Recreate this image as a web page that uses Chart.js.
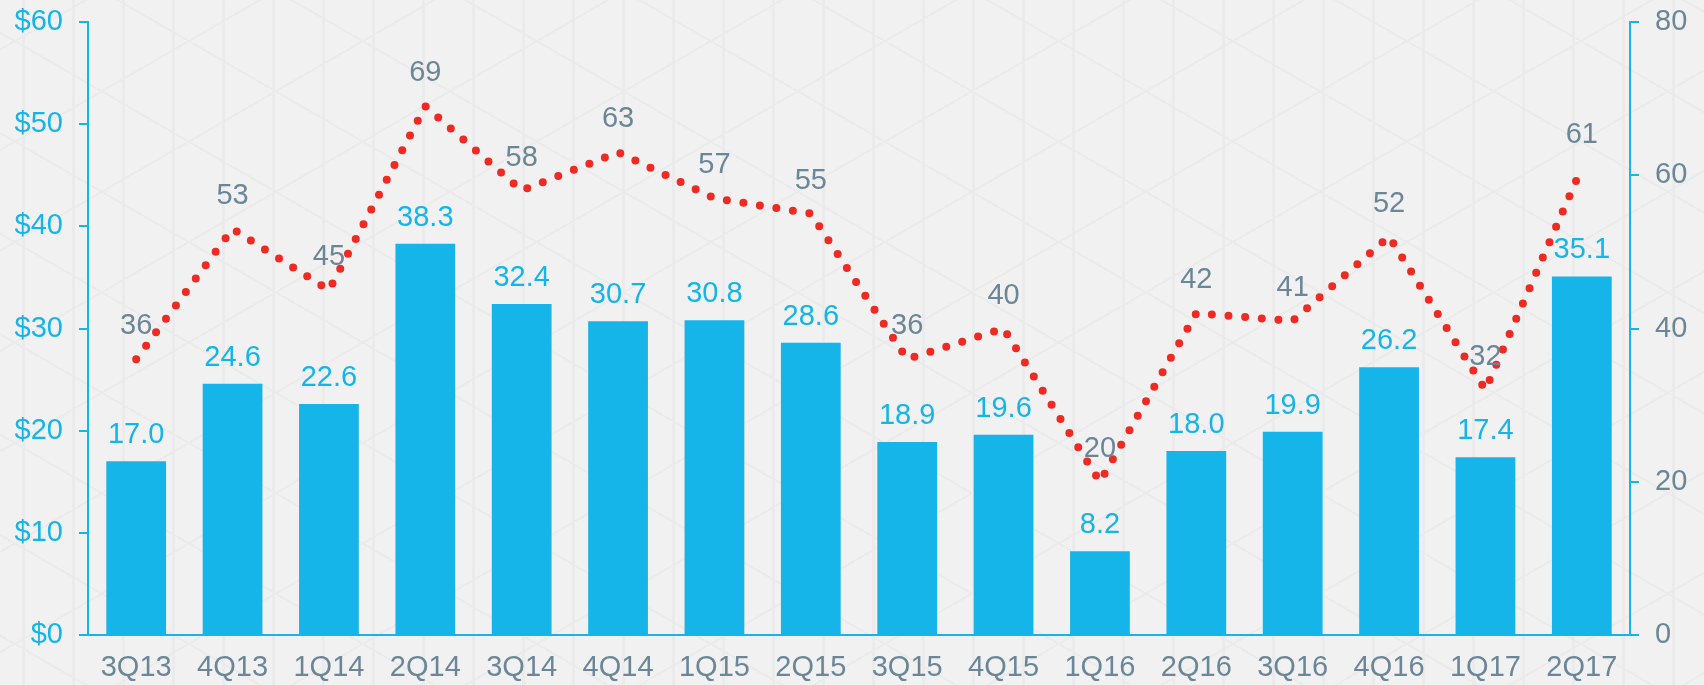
<!DOCTYPE html>
<html lang="en">
<head>
  <meta charset="UTF-8">
  <title>Quarterly chart</title>
  <script src="https://cdn.jsdelivr.net/npm/chart.js"></script>
  <style>
    html, body { margin: 0; padding: 0; }
    body {
      width: 1704px; height: 685px; overflow: hidden;
      background-color: #f1f1f1;
      background-image:
        repeating-linear-gradient(90deg, transparent 0 22px, #ebebeb 22px 25px, transparent 25px 50px),
        repeating-linear-gradient(30deg, transparent 0 42px, #ebebeb 42px 44px, transparent 44px 87px),
        repeating-linear-gradient(150deg, transparent 0 42px, #ebebeb 42px 44px, transparent 44px 87px);
    }
    canvas { display: block; }
  </style>
</head>
<body>
  <canvas id="chart" width="1704" height="685"></canvas>

  <script>
    const quarters = ['3Q13','4Q13','1Q14','2Q14','3Q14','4Q14','1Q15','2Q15','3Q15','4Q15','1Q16','2Q16','3Q16','4Q16','1Q17','2Q17'];
    const barValues = [17.0, 24.6, 22.6, 38.3, 32.4, 30.7, 30.8, 28.6, 18.9, 19.6, 8.2, 18.0, 19.9, 26.2, 17.4, 35.1];
    const lineValues = [36, 53, 45, 69, 58, 63, 57, 55, 36, 40, 20, 42, 41, 52, 32, 61];

    const blue = '#15b4e9';
    const grey = '#6b8697';
    const red = '#ee2a22';
    const font = { family: '"Liberation Sans", Arial, sans-serif', size: 29 };

    // draws the value labels above bars and line points
    const valueLabels = {
      id: 'valueLabels',
      afterDatasetsDraw(chart) {
        const ctx = chart.ctx;
        ctx.save();
        ctx.font = `${font.size}px ${font.family}`;
        ctx.textAlign = 'center';
        ctx.textBaseline = 'alphabetic';
        chart.getDatasetMeta(0).data.forEach((bar, i) => {
          ctx.fillStyle = blue;
          ctx.fillText(barValues[i].toFixed(1), bar.x, bar.y - 18);
        });
        chart.getDatasetMeta(1).data.forEach((pt, i) => {
          ctx.fillStyle = grey;
          ctx.fillText(String(lineValues[i]), pt.x, pt.y - 25);
        });
        ctx.restore();
      }
    };

    // fixed axis sizes so the plot area sits where the original does
    const fitY = w => scale => { scale.width = w; scale.paddingTop = 0; scale.paddingBottom = 0; };

    new Chart(document.getElementById('chart').getContext('2d'), {
      data: {
        labels: quarters,
        datasets: [
          {
            type: 'bar',
            data: barValues,
            backgroundColor: blue,
            yAxisID: 'y',
            categoryPercentage: 1,
            barPercentage: 0.62,
            order: 2
          },
          {
            type: 'line',
            data: lineValues,
            borderColor: red,
            borderWidth: 8,
            borderDash: [0, 16.7],
            borderCapStyle: 'round',
            tension: 0,
            pointRadius: 0,
            yAxisID: 'y1',
            order: 1
          }
        ]
      },
      options: {
        responsive: false,
        animation: false,
        devicePixelRatio: 1,
        layout: { padding: { top: 22, bottom: 0, left: 0, right: 0 } },
        plugins: { legend: { display: false }, tooltip: { enabled: false } },
        scales: {
          x: {
            grid: { display: false },
            border: { display: true, color: blue, width: 2 },
            ticks: { color: grey, font: font, padding: 8, maxRotation: 0, autoSkip: false },
            afterFit(scale) { scale.height = 50; scale.paddingLeft = 0; scale.paddingRight = 0; }
          },
          y: {
            position: 'left',
            min: 0, max: 60,
            grid: { drawOnChartArea: false, color: blue, tickLength: 9, lineWidth: 2 },
            border: { display: true, color: blue, width: 2 },
            ticks: { stepSize: 10, color: blue, font: font, padding: 16, callback: v => '$' + v },
            afterFit: fitY(88)
          },
          y1: {
            position: 'right',
            min: 0, max: 80,
            grid: { drawOnChartArea: false, color: blue, tickLength: 9, lineWidth: 2 },
            border: { display: true, color: blue, width: 2 },
            ticks: { stepSize: 20, color: grey, font: font, padding: 16 },
            afterFit: fitY(74)
          }
        }
      },
      plugins: [valueLabels]
    });
  </script>
</body>
</html>
